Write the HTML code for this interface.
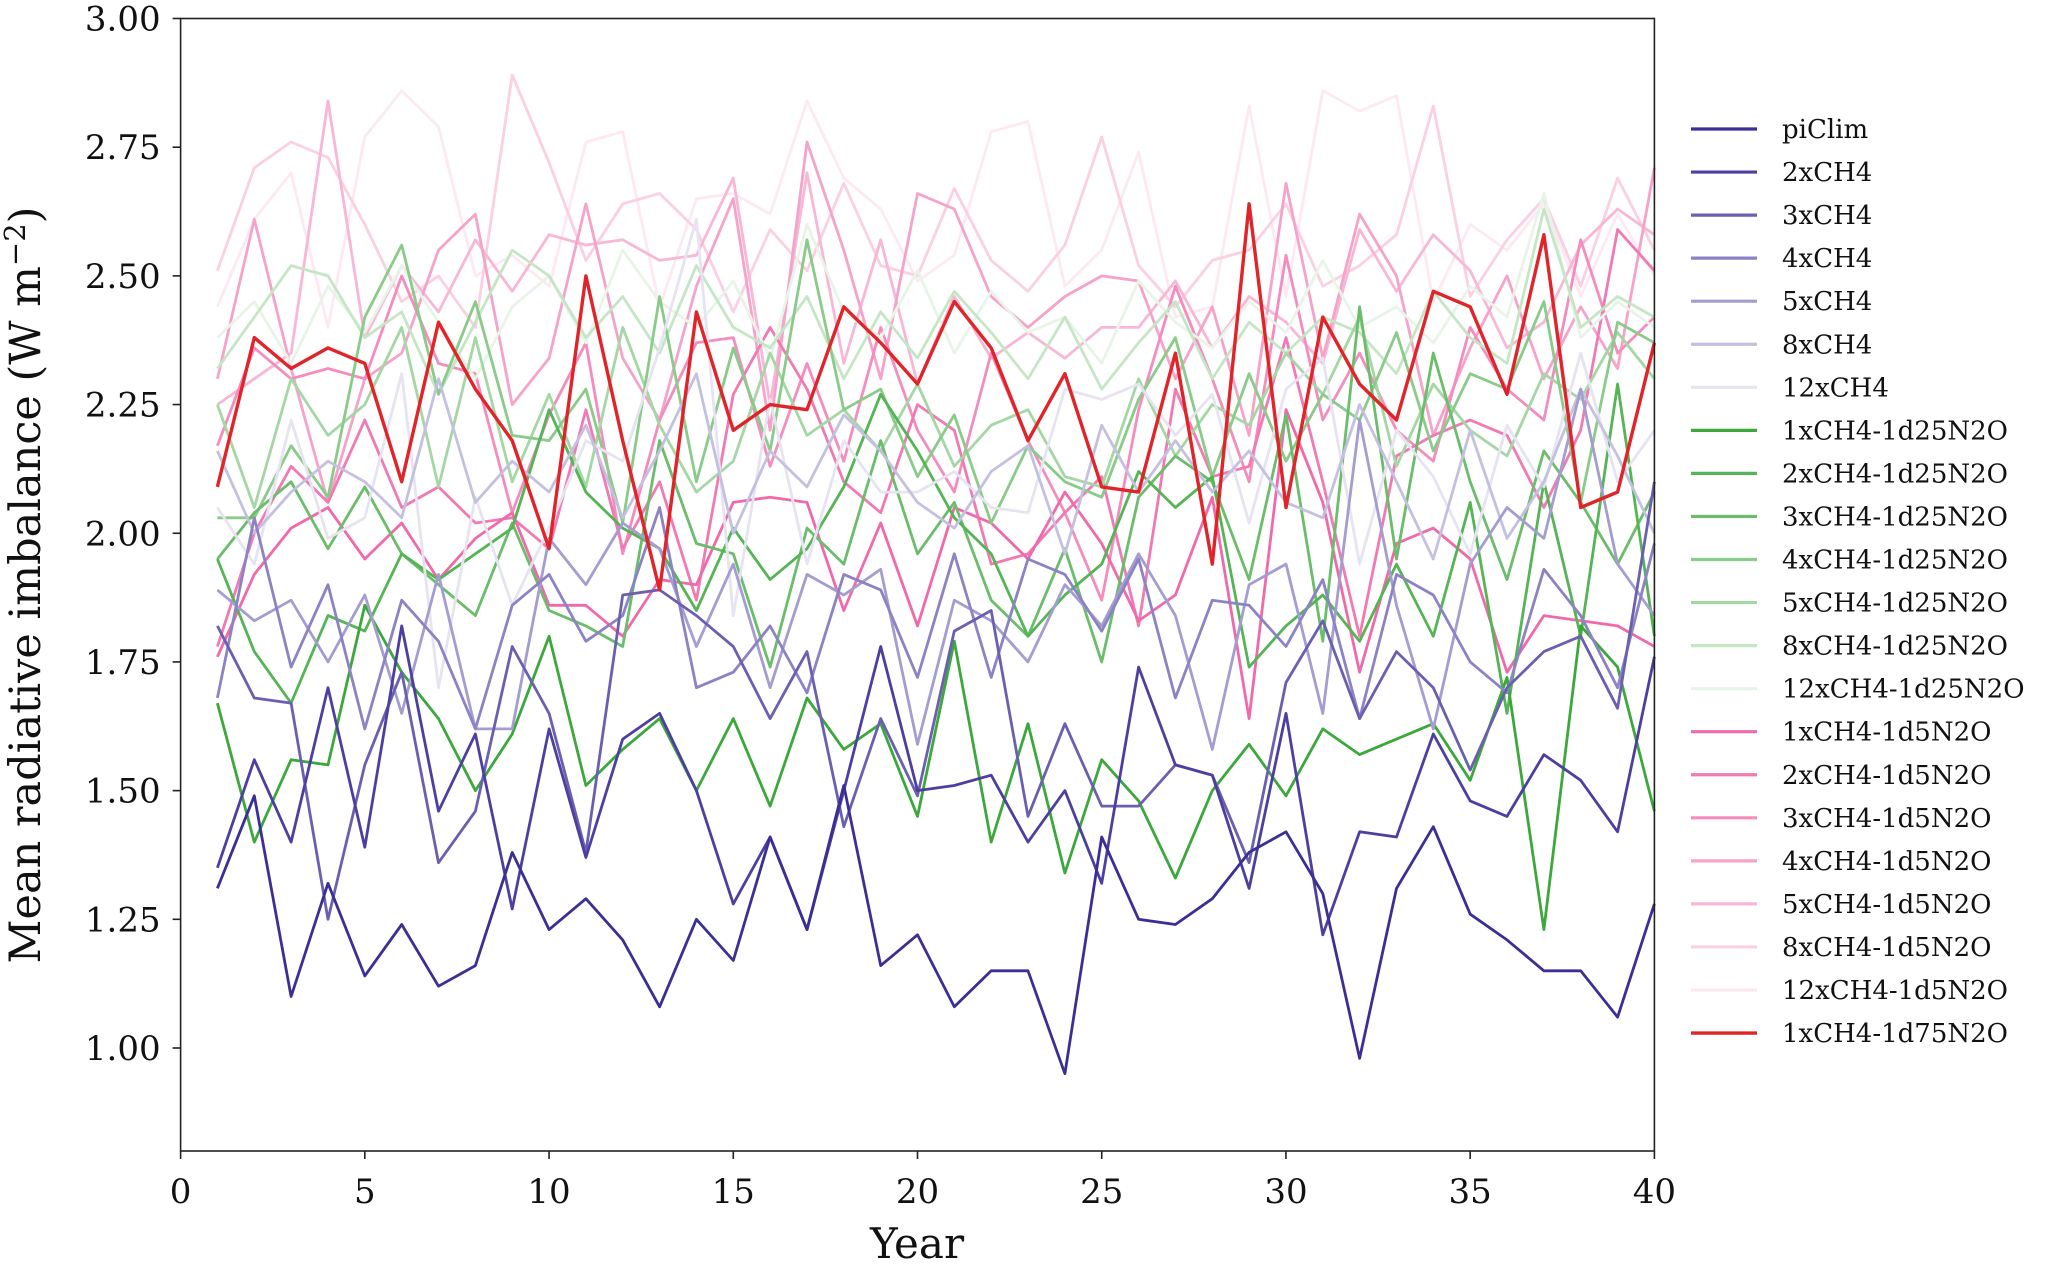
<!DOCTYPE html>
<html><head><meta charset="utf-8">
<style>
html,body{margin:0;padding:0;background:#fff;}
svg{display:block;}
text{font-family:"DejaVu Serif","Liberation Serif",serif;fill:#111;}
</style></head>
<body>
<svg id="chart" width="2067" height="1265" viewBox="0 0 2067 1265" xmlns="http://www.w3.org/2000/svg">
<g id="plot"></g>
<g id="axes"></g>
<g id="legend"></g>
</svg>
<script>
const seriesNames = ["piClim","2xCH4","3xCH4","4xCH4","5xCH4","8xCH4","12xCH4","1xCH4-1d25N2O","2xCH4-1d25N2O","3xCH4-1d25N2O","4xCH4-1d25N2O","5xCH4-1d25N2O","8xCH4-1d25N2O","12xCH4-1d25N2O","1xCH4-1d5N2O","2xCH4-1d5N2O","3xCH4-1d5N2O","4xCH4-1d5N2O","5xCH4-1d5N2O","8xCH4-1d5N2O","12xCH4-1d5N2O","1xCH4-1d75N2O"];
const seriesColors = ["#3b2f96","#4c3fa0","#6b5fb0","#8c83c4","#a39dd0","#c4c0e0","#e6e4f1","#3ca83c","#55b455","#6bbd6b","#8acb8a","#a5d7a5","#c5e6c5","#e8f4e8","#f06aaa","#f27ab3","#f48dbd","#f6a3c9","#f8b7d5","#fad0e2","#fde9f2","#e0242a"];
const years = [1,2,3,4,5,6,7,8,9,10,11,12,13,14,15,16,17,18,19,20,21,22,23,24,25,26,27,28,29,30,31,32,33,34,35,36,37,38,39,40];
const xTicks = [0,5,10,15,20,25,30,35,40];
const yTicks = [1.00,1.25,1.50,1.75,2.00,2.25,2.50,2.75,3.00];
const sPiClim = [1.31,1.49,1.10,1.32,1.14,1.24,1.12,1.16,1.38,1.23,1.29,1.21,1.08,1.25,1.17,1.41,1.23,1.51,1.16,1.22,1.08,1.15,1.15,0.95,1.41,1.25,1.24,1.29,1.38,1.42,1.30,0.98,1.31,1.43,1.26,1.21,1.15,1.15,1.06,1.28];
const s2xCH4 = [1.35,1.56,1.40,1.70,1.39,1.82,1.46,1.61,1.27,1.62,1.37,1.60,1.65,1.50,1.28,1.41,1.23,1.50,1.78,1.50,1.51,1.53,1.40,1.50,1.32,1.74,1.55,1.53,1.31,1.65,1.22,1.42,1.41,1.61,1.48,1.45,1.57,1.52,1.42,1.76];
const s3xCH4 = [1.82,1.68,1.67,1.25,1.55,1.73,1.36,1.46,1.78,1.65,1.38,1.88,1.89,1.84,1.78,1.64,1.77,1.43,1.64,1.49,1.81,1.85,1.45,1.63,1.47,1.47,1.55,1.53,1.36,1.71,1.83,1.64,1.77,1.70,1.54,1.70,1.77,1.80,1.66,2.10];
const s4xCH4 = [1.68,2.03,1.74,1.90,1.62,1.87,1.79,1.62,1.86,1.92,1.79,1.84,2.05,1.70,1.73,1.82,1.69,1.92,1.89,1.72,1.96,1.72,1.95,1.92,1.81,1.95,1.68,1.87,1.86,1.78,1.91,1.64,1.92,1.88,1.75,1.69,1.93,1.84,1.70,1.98];
const s5xCH4 = [1.89,1.83,1.87,1.75,1.88,1.65,1.92,1.62,1.62,1.99,1.90,2.02,1.97,1.78,1.94,1.70,1.92,1.88,1.93,1.59,1.87,1.83,1.75,1.90,1.82,1.96,1.84,1.58,1.90,1.94,1.65,2.22,1.86,1.62,1.94,2.05,1.99,2.28,1.94,1.84];
const s8xCH4 = [2.16,2.00,2.08,2.14,2.10,2.03,2.30,2.06,2.14,2.08,2.21,2.03,2.16,2.31,2.00,2.16,2.09,2.23,2.16,2.06,2.01,2.12,2.17,1.96,2.21,2.08,2.18,2.08,2.16,2.06,2.03,2.25,2.10,1.95,2.20,1.99,2.10,2.28,2.15,2.00];
const s12xCH4 = [2.05,1.94,2.22,1.99,2.03,2.31,1.70,2.07,1.86,2.01,2.18,2.14,2.36,2.61,1.84,2.26,1.94,2.18,2.08,2.08,2.12,2.05,2.04,2.28,2.26,2.29,2.19,2.27,2.02,2.28,2.34,1.94,2.20,2.11,1.96,2.21,2.09,2.35,2.10,2.20];
const sG1 = [1.67,1.40,1.56,1.55,1.86,1.73,1.64,1.50,1.61,1.80,1.51,1.58,1.64,1.50,1.64,1.47,1.68,1.58,1.63,1.45,1.79,1.40,1.63,1.34,1.56,1.48,1.33,1.50,1.59,1.49,1.62,1.57,1.60,1.63,1.52,1.72,1.23,1.82,1.74,1.46];
const sG2 = [1.95,1.77,1.67,1.84,1.81,1.96,1.91,1.96,2.01,2.24,2.08,2.01,1.97,1.85,2.01,1.91,1.97,2.09,2.27,2.16,2.03,1.96,1.80,1.88,1.94,2.12,2.05,2.11,1.74,1.82,1.88,1.79,1.94,1.80,2.06,1.65,2.10,1.80,2.29,1.80];
const sG3 = [1.95,2.04,2.10,1.97,2.09,1.96,1.90,1.84,2.02,1.85,1.82,1.78,2.18,1.98,1.96,1.74,2.01,1.94,2.18,1.96,2.06,1.87,1.80,1.97,1.75,2.07,2.15,2.10,1.91,2.23,1.79,2.44,1.95,2.35,2.10,1.91,2.16,2.06,1.94,2.08];
const sG4 = [2.03,2.03,2.17,2.07,2.42,2.56,2.27,2.45,2.19,2.18,2.28,2.02,2.46,2.10,2.36,2.16,2.57,2.24,2.28,2.11,2.23,2.02,2.17,2.10,2.07,2.26,2.38,2.11,2.31,2.14,2.27,2.22,2.39,2.16,2.31,2.28,2.45,2.06,2.41,2.37];
const sG5 = [2.25,2.05,2.30,2.19,2.25,2.40,2.09,2.38,2.10,2.27,2.09,2.40,2.21,2.08,2.14,2.35,2.19,2.24,2.16,2.29,2.13,2.21,2.24,2.11,2.09,2.30,2.15,2.25,2.21,2.35,2.27,2.42,2.13,2.29,2.20,2.15,2.31,2.26,2.39,2.30];
const sG8 = [2.32,2.42,2.52,2.50,2.38,2.43,2.27,2.41,2.55,2.50,2.38,2.46,2.35,2.52,2.40,2.36,2.46,2.30,2.43,2.34,2.47,2.39,2.30,2.42,2.28,2.37,2.45,2.30,2.41,2.35,2.42,2.39,2.31,2.47,2.38,2.33,2.63,2.40,2.46,2.42];
const sG12 = [2.38,2.45,2.33,2.48,2.39,2.52,2.41,2.30,2.44,2.50,2.37,2.55,2.45,2.40,2.49,2.34,2.60,2.43,2.38,2.51,2.35,2.47,2.39,2.42,2.33,2.49,2.41,2.36,2.45,2.39,2.53,2.40,2.44,2.37,2.48,2.42,2.66,2.38,2.45,2.40];
const sP1 = [1.76,1.92,2.01,2.05,1.95,2.02,1.91,1.99,2.04,1.86,1.86,1.80,1.91,1.90,2.06,2.07,2.06,1.85,2.02,1.82,2.05,2.02,1.95,2.08,1.98,1.83,1.88,2.07,1.64,2.24,2.06,1.73,1.98,2.01,1.95,1.73,1.84,1.83,1.82,1.78];
const sP2 = [1.78,2.00,2.13,2.06,2.22,2.05,2.09,2.02,2.03,1.97,2.24,1.97,2.10,1.87,2.27,2.40,2.28,2.10,2.04,2.25,2.20,1.94,1.96,2.04,2.11,1.82,2.28,2.11,2.13,2.38,2.10,1.80,2.15,2.19,2.22,2.19,2.05,2.20,2.59,2.51];
const sP3 = [2.17,2.36,2.30,2.32,2.30,2.50,2.33,2.31,2.04,2.23,2.37,1.96,2.22,2.37,2.38,2.13,2.33,2.14,2.40,2.20,2.08,2.35,2.18,2.04,1.87,2.24,2.48,2.30,2.10,2.54,2.22,2.35,2.20,2.14,2.40,2.28,2.22,2.57,2.35,2.42];
const sP4 = [2.30,2.61,2.32,2.06,2.30,2.35,2.55,2.62,2.25,2.34,2.64,2.34,2.22,2.48,2.65,2.20,2.76,2.55,2.30,2.66,2.63,2.46,2.40,2.46,2.50,2.49,2.30,2.44,2.19,2.68,2.34,2.62,2.50,2.19,2.36,2.50,2.30,2.44,2.32,2.71];
const sP5 = [2.25,2.30,2.35,2.84,2.38,2.52,2.43,2.57,2.47,2.58,2.56,2.57,2.53,2.54,2.69,2.25,2.70,2.33,2.57,2.29,2.46,2.34,2.39,2.34,2.40,2.40,2.49,2.36,2.46,2.41,2.33,2.59,2.47,2.58,2.51,2.36,2.41,2.56,2.63,2.58];
const sP8 = [2.51,2.71,2.76,2.73,2.60,2.45,2.50,2.40,2.89,2.72,2.53,2.64,2.66,2.59,2.43,2.59,2.51,2.68,2.52,2.50,2.67,2.53,2.47,2.56,2.77,2.52,2.44,2.53,2.55,2.64,2.48,2.52,2.58,2.83,2.46,2.57,2.65,2.48,2.69,2.55];
const sP12 = [2.44,2.61,2.70,2.40,2.77,2.86,2.79,2.50,2.54,2.48,2.76,2.78,2.44,2.65,2.66,2.62,2.84,2.69,2.63,2.49,2.54,2.78,2.80,2.48,2.55,2.74,2.42,2.44,2.83,2.46,2.86,2.82,2.85,2.45,2.60,2.55,2.64,2.46,2.62,2.50];
const sRed = [2.09,2.38,2.32,2.36,2.33,2.10,2.41,2.28,2.18,1.97,2.50,2.18,1.89,2.43,2.20,2.25,2.24,2.44,2.37,2.29,2.45,2.36,2.18,2.31,2.09,2.08,2.35,1.94,2.64,2.05,2.42,2.29,2.22,2.47,2.44,2.27,2.58,2.05,2.08,2.37];
const allSeries = [sPiClim,s2xCH4,s3xCH4,s4xCH4,s5xCH4,s8xCH4,s12xCH4,sG1,sG2,sG3,sG4,sG5,sG8,sG12,sP1,sP2,sP3,sP4,sP5,sP8,sP12,sRed];

const NS="http://www.w3.org/2000/svg";
const L=180.6,R=1654.4,T=18.5,B=1151;
const xS=v=>L+(v-0)/(40-0)*(R-L);
const yS=v=>1048+(v-1.0)*(18.5-1048)/2.0;
function mk(tag,attrs,parent){const e=document.createElementNS(NS,tag);for(const k in attrs)e.setAttribute(k,attrs[k]);parent.appendChild(e);return e;}
const plot=document.getElementById('plot'),axes=document.getElementById('axes'),legend=document.getElementById('legend');

const order=[20,19,18,17,16,15,14,13,12,11,10,9,8,7,6,5,4,3,2,1,0,21];
order.forEach(i=>{
  const d=allSeries[i].map((v,j)=>(j?'L':'M')+xS(years[j]).toFixed(1)+' '+yS(v).toFixed(1)).join(' ');
  const p=mk('path',{d:d,fill:'none',stroke:seriesColors[i],'stroke-width':i===21?3.4:2.8,'stroke-linejoin':'round'},plot);
  
  
});

const frame=mk('rect',{x:L,y:T,width:R-L,height:B-T,fill:'none',stroke:'#222','stroke-width':1.6},axes);


xTicks.forEach(t=>{
  const x=xS(t);
  mk('line',{x1:x,y1:B,x2:x,y2:B+8,stroke:'#222','stroke-width':1.6},axes);
  const tx=mk('text',{x:x,y:B+52,'text-anchor':'middle','font-size':34},axes);
  tx.textContent=t;
  
  
});
yTicks.forEach(t=>{
  const y=yS(t);
  mk('line',{x1:L-8,y1:y,x2:L,y2:y,stroke:'#222','stroke-width':1.6},axes);
  const tx=mk('text',{x:L-20,y:y+12,'text-anchor':'end','font-size':34},axes);
  tx.textContent=t.toFixed(2);
  
  
});
const xl=mk('text',{x:917,y:1258,'text-anchor':'middle','font-size':42},axes);
xl.textContent='Year';


const yl=mk('text',{x:0,y:0,'text-anchor':'middle','font-size':43,transform:'translate(40,585) rotate(-90)'},axes);
yl.innerHTML='Mean radiative imbalance (W m<tspan dy="-15" font-size="29">−2</tspan><tspan dy="15">)</tspan>';



seriesNames.forEach((n,i)=>{
  const y=129+i*43.05;
  const g=mk('g',{},legend);
  
  
  mk('line',{x1:1691,y1:y,x2:1757,y2:y,stroke:seriesColors[i],'stroke-width':i===21?3.4:3.2},g);
  const tx=mk('text',{x:1782,y:y+9,'font-size':26},g);
  tx.textContent=n;
});
</script>
</body></html>
